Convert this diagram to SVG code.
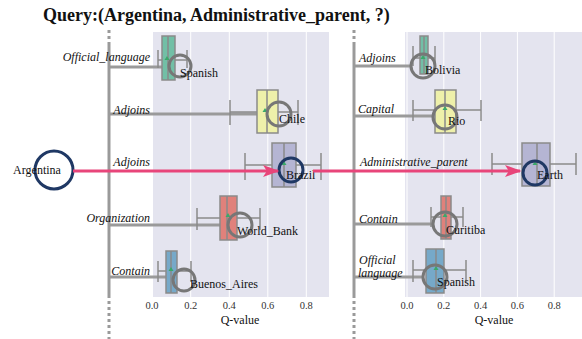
<svg xmlns="http://www.w3.org/2000/svg" width="582" height="339" viewBox="0 0 582 339">
<style>
text{font-family:"Liberation Serif","Times New Roman",serif;fill:#111}
.title{font-size:18px;font-weight:bold}
.rel{font-size:12px;font-style:italic}
.ent{font-size:12px}
.tick{font-size:10.5px;fill:#333}
.ax{font-size:12px}
.bg{fill:#e4e4ef}
.grid{stroke:#fff;stroke-width:1}
.trunk{stroke:#9a9a9a;stroke-width:3;fill:none}
.dash{stroke:#9a9a9a;stroke-width:3;stroke-dasharray:3,3;fill:none}
.conn{stroke:#9a9a9a;stroke-width:3;fill:none}
.box{stroke:#8a8a8a;stroke-width:1.5}
.wh{stroke:#8a8a8a;stroke-width:1.5;fill:none}
.mean{fill:#3ba86a}
.cg{fill:none;stroke:#777;stroke-width:3}
.cn{fill:none;stroke:#1f3864;stroke-width:3}
.arrow{stroke:#e8457a;stroke-width:3;fill:none}
</style>
<defs>
<marker id="ah" markerWidth="5.5" markerHeight="4" refX="5" refY="2" orient="auto" markerUnits="strokeWidth">
<path d="M0,0 L5.5,2 L0,4 L1.3,2 Z" fill="#e8457a"/>
</marker>
</defs>
<text class="title" x="43" y="21">Query:(Argentina, Administrative_parent, ?)</text>

<g id="panel-left">
<rect class="bg" x="152" y="32" width="177" height="265"/>
<line class="grid" x1="152.5" y1="32" x2="152.5" y2="297"/>
<line class="grid" x1="190.7" y1="32" x2="190.7" y2="297"/>
<line class="grid" x1="229.3" y1="32" x2="229.3" y2="297"/>
<line class="grid" x1="267.8" y1="32" x2="267.8" y2="297"/>
<line class="grid" x1="306.3" y1="32" x2="306.3" y2="297"/>
<text class="tick" x="152" y="309" text-anchor="middle">0.0</text>
<text class="tick" x="190.7" y="309" text-anchor="middle">0.2</text>
<text class="tick" x="229.3" y="309" text-anchor="middle">0.4</text>
<text class="tick" x="267.8" y="309" text-anchor="middle">0.6</text>
<text class="tick" x="306.3" y="309" text-anchor="middle">0.8</text>
<text class="ax" x="240" y="324" text-anchor="middle">Q-value</text>
</g>

<g id="panel-right">
<rect class="bg" x="405" y="32" width="177" height="265"/>
<line class="grid" x1="407" y1="32" x2="407" y2="297"/>
<line class="grid" x1="443.8" y1="32" x2="443.8" y2="297"/>
<line class="grid" x1="480.6" y1="32" x2="480.6" y2="297"/>
<line class="grid" x1="517.4" y1="32" x2="517.4" y2="297"/>
<line class="grid" x1="554.2" y1="32" x2="554.2" y2="297"/>
<text class="tick" x="407" y="309" text-anchor="middle">0.0</text>
<text class="tick" x="443.8" y="309" text-anchor="middle">0.2</text>
<text class="tick" x="480.6" y="309" text-anchor="middle">0.4</text>
<text class="tick" x="517.4" y="309" text-anchor="middle">0.6</text>
<text class="tick" x="554.2" y="309" text-anchor="middle">0.8</text>
<text class="ax" x="494" y="324" text-anchor="middle">Q-value</text>
</g>

<g id="connectors">
<line class="dash" x1="109" y1="30" x2="109" y2="45"/>
<line class="trunk" x1="109" y1="45" x2="109" y2="298"/>
<line class="dash" x1="109" y1="301" x2="109" y2="339"/>
<line class="dash" x1="354" y1="30" x2="354" y2="45"/>
<line class="trunk" x1="354" y1="45" x2="354" y2="298"/>
<line class="dash" x1="354" y1="301" x2="354" y2="339"/>
<line class="conn" x1="109" y1="67" x2="170" y2="67"/>
<line class="conn" x1="109" y1="114" x2="267" y2="114"/>
<line class="conn" x1="109" y1="225" x2="228" y2="225"/>
<line class="conn" x1="109" y1="277" x2="172" y2="277"/>
<line class="conn" x1="354" y1="66" x2="412" y2="66"/>
<line class="conn" x1="354" y1="116" x2="434" y2="116"/>
<line class="conn" x1="354" y1="224" x2="434" y2="224"/>
<line class="conn" x1="354" y1="277" x2="423" y2="277"/>
</g>

<g id="left-spanish">
<text class="rel" x="150" y="61" text-anchor="end">Official_language</text>
<path class="wh" d="M158,60 H187 M158,50 V68 M187,50 V68"/>
<rect class="box" x="162" y="36" width="13" height="44" fill="#72bfa6"/>
<line class="wh" x1="168" y1="36" x2="168" y2="80"/>
<path class="mean" d="M167,56 L169.5,60 L164.5,60 Z"/>
<circle class="cg" cx="180" cy="66" r="11"/>
<text class="ent" x="180" y="77">Spanish</text>
</g>

<g id="left-chile">
<text class="rel" x="150" y="114" text-anchor="end">Adjoins</text>
<path class="wh" d="M230,112 H298 M230,100 V125 M298,100 V125"/>
<rect class="box" x="257" y="90" width="21" height="43" fill="#eef0aa"/>
<line class="wh" x1="267" y1="90" x2="267" y2="133"/>
<path class="mean" d="M265,108 L267.5,112 L262.5,112 Z"/>
<circle class="cg" cx="279" cy="114" r="12"/>
<text class="ent" x="279" y="123">Chile</text>
</g>

<g id="left-brazil">
<text class="rel" x="150" y="166" text-anchor="end">Adjoins</text>
<path class="wh" d="M245,165 H321 M245,153 V180 M321,153 V180"/>
<rect class="box" x="272" y="143" width="24" height="44" fill="#b5b5d3"/>
<line class="wh" x1="284" y1="143" x2="284" y2="187"/>
<path class="mean" d="M284,161 L286.5,165 L281.5,165 Z"/>
<circle class="cn" cx="291" cy="170" r="12"/>
<text class="ent" x="286" y="179">Brazil</text>
</g>

<g id="left-worldbank">
<text class="rel" x="150" y="222" text-anchor="end">Organization</text>
<path class="wh" d="M197,218 H260 M197,208 V230 M260,208 V230"/>
<rect class="box" x="220" y="196" width="17" height="44" fill="#e0817b"/>
<line class="wh" x1="227" y1="196" x2="227" y2="240"/>
<path class="mean" d="M228,213 L230.5,217 L225.5,217 Z"/>
<circle class="cg" cx="240" cy="225" r="12"/>
<text class="ent" x="237" y="235">World_Bank</text>
</g>

<g id="left-buenosaires">
<text class="rel" x="150" y="275" text-anchor="end">Contain</text>
<path class="wh" d="M158,271 H191 M158,261 V282 M191,261 V282"/>
<rect class="box" x="166" y="251" width="11" height="42" fill="#76a9c9"/>
<line class="wh" x1="171" y1="251" x2="171" y2="293"/>
<path class="mean" d="M171,267 L173.5,271 L168.5,271 Z"/>
<circle class="cg" cx="184" cy="280" r="11"/>
<text class="ent" x="190" y="288">Buenos_Aires</text>
</g>

<g id="argentina">
<circle class="cn" cx="54" cy="170" r="19"/>
<text class="ent" x="37" y="174" text-anchor="middle">Argentina</text>
</g>

<g id="right-bolivia">
<text class="rel" x="359" y="62">Adjoins</text>
<path class="wh" d="M413,58 H435 M413,46 V66 M435,46 V66"/>
<rect class="box" x="420" y="36" width="8" height="38" fill="#72bfa6"/>
<line class="wh" x1="424" y1="36" x2="424" y2="74"/>
<path class="mean" d="M423,55 L425.5,59 L420.5,59 Z"/>
<circle class="cg" cx="423" cy="66" r="12"/>
<text class="ent" x="425" y="74">Bolivia</text>
</g>

<g id="right-rio">
<text class="rel" x="358" y="113">Capital</text>
<path class="wh" d="M413,110 H481 M413,100 V121 M481,100 V121"/>
<rect class="box" x="435" y="90" width="21" height="43" fill="#eef0aa"/>
<line class="wh" x1="445" y1="90" x2="445" y2="133"/>
<path class="mean" d="M445,106 L447.5,110 L442.5,110 Z"/>
<circle class="cg" cx="445" cy="117" r="12"/>
<text class="ent" x="448" y="125">Rio</text>
</g>

<g id="right-earth">
<text class="rel" x="360" y="166">Administrative_parent</text>
<path class="wh" d="M492,164 H576 M492,153 V175 M576,153 V175"/>
<rect class="box" x="522" y="143" width="28" height="43" fill="#b5b5d3"/>
<line class="wh" x1="537" y1="143" x2="537" y2="186"/>
<path class="mean" d="M535,161 L537.5,165 L532.5,165 Z"/>
<circle class="cn" cx="535" cy="173" r="12"/>
<text class="ent" x="537" y="179">Earth</text>
</g>

<g id="right-curitiba">
<text class="rel" x="359" y="223">Contain</text>
<path class="wh" d="M431,217 H463 M431,207 V227 M463,207 V227"/>
<rect class="box" x="441" y="196" width="10" height="43" fill="#e0817b"/>
<line class="wh" x1="446" y1="196" x2="446" y2="239"/>
<path class="mean" d="M445,213 L447.5,217 L442.5,217 Z"/>
<circle class="cg" cx="445" cy="224" r="12"/>
<text class="ent" x="446" y="234">Curitiba</text>
</g>

<g id="right-spanish">
<text class="rel" x="359" y="264">Official</text>
<text class="rel" x="358" y="277">language</text>
<path class="wh" d="M413,270 H466 M413,260 V282 M466,260 V282"/>
<rect class="box" x="426" y="249" width="18" height="44" fill="#76a9c9"/>
<line class="wh" x1="436" y1="249" x2="436" y2="293"/>
<path class="mean" d="M436,266 L438.5,270 L433.5,270 Z"/>
<circle class="cg" cx="435" cy="277" r="12"/>
<text class="ent" x="437" y="286">Spanish</text>
</g>

<g id="query-arrows">
<line class="arrow" x1="73" y1="171" x2="278" y2="171" marker-end="url(#ah)"/>
<line class="arrow" x1="313" y1="171" x2="520" y2="171" marker-end="url(#ah)"/>
</g>
</svg>
